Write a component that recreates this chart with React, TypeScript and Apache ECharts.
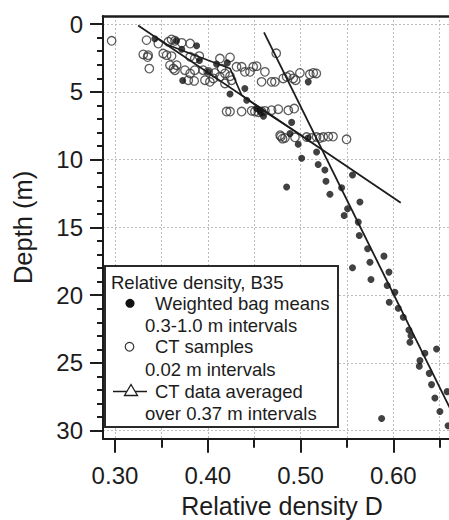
import React, { useEffect, useRef } from "react";
import * as echarts from "echarts";

// Weighted bag means: [relative density D, depth m]
const bagMeans: number[][] = [
  [0.343, 1.08], [0.366, 1.22], [0.372, 1.85], [0.388, 1.6], [0.391, 2.68],
  [0.373, 4.16], [0.4005, 3.52], [0.4095, 2.95], [0.421, 2.86], [0.424, 5.15],
  [0.44, 4.75], [0.442, 5.62], [0.4526, 6.23], [0.4575, 6.5], [0.4563, 6.36],
  [0.46, 6.8], [0.4904, 7.25], [0.4886, 8.08], [0.4975, 8.87], [0.5083, 4.26],
  [0.5012, 9.9], [0.508, 8.4], [0.5173, 9.44], [0.519, 10.36], [0.5262, 10.76],
  [0.556, 11.13], [0.5274, 11.6], [0.5317, 12.56], [0.5443, 12.07], [0.564, 13.13],
  [0.5507, 13.62], [0.547, 14.12], [0.5622, 14.61], [0.5633, 15.6], [0.5723, 16.58],
  [0.5899, 17.12], [0.5748, 17.57], [0.556, 17.98], [0.5953, 18.3], [0.5759, 18.85],
  [0.5934, 19.29], [0.6017, 19.79], [0.5956, 20.52], [0.6053, 20.97], [0.6107, 21.63],
  [0.6168, 22.57], [0.619, 22.99], [0.6179, 23.48], [0.6466, 23.97], [0.634, 24.29],
  [0.6287, 24.83], [0.628, 25.25], [0.6387, 25.77], [0.6412, 26.6], [0.658, 27.12],
  [0.6448, 27.59], [0.6502, 28.58], [0.5874, 29.1], [0.659, 29.64], [0.485, 12.02],
];

// CT samples (0.02 m intervals): [relative density D, depth m]
const ctSamples: number[][] = [
  [0.2964, 1.23], [0.334, 1.18], [0.3305, 2.24], [0.3358, 2.29], [0.3352, 2.43],
  [0.337, 3.28], [0.3467, 1.43], [0.352, 2.17], [0.3575, 1.3], [0.361, 1.13],
  [0.3647, 1.23], [0.372, 1.38], [0.381, 1.43], [0.3557, 2.29], [0.361, 2.36],
  [0.3593, 3.03], [0.363, 3.28], [0.3665, 3.03], [0.3647, 3.4], [0.3754, 3.4],
  [0.381, 3.64], [0.386, 3.4], [0.379, 4.14], [0.3854, 4.19], [0.381, 2.41],
  [0.386, 2.54], [0.3909, 2.36], [0.395, 3.4], [0.4005, 3.52], [0.397, 4.14],
  [0.4023, 4.26], [0.406, 4.01], [0.4077, 3.6], [0.413, 3.89], [0.4185, 4.38],
  [0.4131, 2.54], [0.424, 2.46], [0.415, 3.28], [0.4185, 3.64], [0.424, 3.84],
  [0.4257, 4.14], [0.431, 3.15], [0.4365, 3.15], [0.44, 3.52], [0.4455, 3.52],
  [0.449, 3.15], [0.4527, 3.1], [0.4616, 3.52], [0.458, 4.26], [0.4688, 4.26],
  [0.4724, 4.26], [0.4738, 2.15], [0.4813, 4.01], [0.485, 3.89], [0.4886, 3.77],
  [0.4921, 4.01], [0.4947, 4.14], [0.4993, 3.6], [0.51, 3.7], [0.5137, 3.6],
  [0.517, 3.64],
  [0.4203, 6.45], [0.424, 6.45], [0.4365, 6.45], [0.4473, 6.4], [0.4508, 6.45],
  [0.4545, 6.5], [0.458, 6.45], [0.4616, 6.4], [0.4688, 6.35], [0.476, 6.28],
  [0.4868, 6.36], [0.4932, 6.23],
  [0.478, 8.2], [0.4806, 8.45], [0.4789, 8.3], [0.4832, 8.4], [0.494, 8.35],
  [0.5066, 8.33], [0.512, 8.4], [0.5173, 8.33], [0.521, 8.4], [0.5245, 8.33],
  [0.53, 8.3], [0.535, 8.3], [0.5496, 8.5],
];

// CT data averaged over 0.37 m intervals
const ctAveraged: number[][] = [
  [0.345, 1.0], [0.356, 1.5], [0.381, 2.17], [0.424, 3.27], [0.4365, 5.24],
  [0.458, 6.3], [0.503, 8.3],
];

// Fitted trend lines
const fitShallow: number[][] = [[0.325, 0.1], [0.608, 13.18]];
const fitDeep: number[][] = [[0.4606, 0.61], [0.673, 30.0]];

// Axes
const xMajorTicks = [0.3, 0.4, 0.5, 0.6];
const xMinorTicks = [0.3, 0.35, 0.4, 0.45, 0.5, 0.55, 0.6, 0.65];
const yMajorTicks = [0, 5, 10, 15, 20, 25, 30];
const yMinorTicks = [0, 1, 2, 3, 4, 5, 6, 7, 8, 9, 10, 11, 12, 13, 14, 15, 16, 17, 18, 19, 20, 21, 22, 23, 24, 25, 26, 27, 28, 29, 30];
const xTitle = "Relative density D";
const yTitle = "Depth (m)";

const legendTitle = "Relative density, B35";
const legendItems = [
  "Weighted bag means",
  "0.3-1.0 m intervals",
  "CT samples",
  "0.02 m intervals",
  "CT data averaged",
  "over 0.37 m intervals",
];

const FONT = "'Liberation Sans', Arial, sans-serif";
const INK = "#1c1c1c";
const X_MIN = 0.2871;
const X_MAX = 0.66;
const Y_MIN = -0.6;
const Y_MAX = 30.6;

export default function App() {
  const ref = useRef<HTMLDivElement>(null);

  useEffect(() => {
    if (!ref.current) return;
    const chart = echarts.init(ref.current, null, { renderer: "svg" });
    const axisLineStyle = { color: INK, width: 2 };
    const gridLine = { show: true, lineStyle: { color: "#bcbcbc", width: 1, type: [2, 2] as any } };
    const xBase = { type: "value" as const, min: X_MIN, max: X_MAX };
    const yBase = { type: "value" as const, min: Y_MIN, max: Y_MAX, inverse: true, position: "left" as const };

    const txt = (text: string, x: number, y: number) => ({
      type: "text",
      x,
      y,
      z: 101,
      style: { text, fill: INK, fontSize: 18.5, lineHeight: 19, fontFamily: FONT, verticalAlign: "middle", align: "left" },
    });

    const option: any = {
      animation: false,
      backgroundColor: "#fff",
      grid: { left: 103, top: 16, width: 346, height: 422.8, containLabel: false, outerBoundsMode: "none" },
      xAxis: [
        {
          ...xBase,
          position: "bottom",
          axisLine: { show: true, onZero: false, lineStyle: axisLineStyle },
          axisTick: { show: true, customValues: xMinorTicks, length: 9, lineStyle: axisLineStyle },
          axisLabel: { show: false },
          splitLine: gridLine,
        },
        {
          ...xBase,
          position: "bottom",
          axisLine: { show: false, onZero: false },
          axisTick: { show: true, customValues: xMajorTicks, length: 14, lineStyle: axisLineStyle },
          axisLabel: {
            show: true,
            customValues: xMajorTicks,
            formatter: (v: number) => v.toFixed(2),
            fontSize: 24,
            lineHeight: 24,
            fontFamily: FONT,
            color: INK,
            margin: 25,
          },
          splitLine: { show: false },
          name: xTitle,
          nameLocation: "middle",
          nameGap: 55,
          nameTextStyle: { fontSize: 25, lineHeight: 25, fontFamily: FONT, color: INK, padding: [0, 0, 0, 12] },
        },
        {
          ...xBase,
          position: "top",
          axisLine: { show: true, onZero: false, lineStyle: { color: INK, width: 2.5 } },
          axisTick: { show: false },
          axisLabel: { show: false },
          splitLine: { show: false },
        },
      ],
      yAxis: [
        {
          ...yBase,
          axisLine: { show: true, onZero: false, lineStyle: axisLineStyle },
          axisTick: { show: true, customValues: yMinorTicks, length: 6, lineStyle: axisLineStyle },
          axisLabel: { show: false },
          splitLine: { show: false },
        },
        {
          ...yBase,
          axisLine: { show: false, onZero: false },
          axisTick: { show: true, customValues: yMajorTicks, length: 13, lineStyle: axisLineStyle },
          axisLabel: {
            show: true,
            customValues: yMajorTicks,
            fontSize: 24,
            lineHeight: 24,
            fontFamily: FONT,
            color: INK,
            margin: 20,
          },
          splitLine: gridLine,
          name: yTitle,
          nameLocation: "middle",
          nameGap: 67,
          nameTextStyle: { fontSize: 25.5, lineHeight: 25.5, fontFamily: FONT, color: INK },
        },
      ],
      series: [
        {
          type: "scatter",
          name: "CT samples",
          xAxisIndex: 0,
          yAxisIndex: 0,
          data: ctSamples,
          symbol: "circle",
          symbolSize: 8.5,
          itemStyle: { color: "rgba(0,0,0,0)", borderColor: "#333", borderWidth: 1.3 },
          z: 2,
        },
        {
          type: "scatter",
          name: "Weighted bag means",
          xAxisIndex: 0,
          yAxisIndex: 0,
          data: bagMeans,
          symbol: "circle",
          symbolSize: 7,
          itemStyle: { color: "#111" },
          z: 3,
        },
        {
          type: "line",
          name: "CT data averaged",
          xAxisIndex: 0,
          yAxisIndex: 0,
          data: ctAveraged,
          symbol: "none",
          clip: true,
          lineStyle: { color: INK, width: 1.6 },
          z: 4,
        },
        {
          type: "line",
          name: "Shallow fit",
          xAxisIndex: 0,
          yAxisIndex: 0,
          data: fitShallow,
          symbol: "none",
          clip: true,
          lineStyle: { color: INK, width: 1.8 },
          z: 4,
        },
        {
          type: "line",
          name: "Deep fit",
          xAxisIndex: 0,
          yAxisIndex: 0,
          data: fitDeep,
          symbol: "none",
          clip: true,
          lineStyle: { color: INK, width: 1.8 },
          z: 4,
        },
      ],
      graphic: [
        {
          type: "rect",
          z: 100,
          shape: { x: 105, y: 266, width: 233, height: 161 },
          style: { fill: "#fff", stroke: "#2a2a2a", lineWidth: 2 },
        },
        txt(legendTitle, 111, 282.5),
        { type: "circle", z: 101, shape: { cx: 130, cy: 303.3, r: 4.5 }, style: { fill: "#111" } },
        txt(legendItems[0], 155, 303.3),
        txt(legendItems[1], 145, 325.5),
        { type: "circle", z: 101, shape: { cx: 129.5, cy: 346.7, r: 4.3 }, style: { fill: "none", stroke: "#333", lineWidth: 1.2 } },
        txt(legendItems[2], 155, 346.7),
        txt(legendItems[3], 145, 369.5),
        { type: "line", z: 101, shape: { x1: 113, y1: 391.5, x2: 147, y2: 391.5 }, style: { stroke: INK, lineWidth: 1.5 } },
        {
          type: "polygon",
          z: 102,
          shape: { points: [[124.5, 395.5], [137.5, 395.5], [131, 384.5]] },
          style: { fill: "#fff", stroke: INK, lineWidth: 1.3 },
        },
        txt(legendItems[4], 155, 391),
        txt(legendItems[5], 145, 413),
      ],
    };
    chart.setOption(option);
    return () => chart.dispose();
  }, []);

  return (
    <div
      ref={ref}
      style={{ position: "fixed", left: 0, top: 0, width: 449, height: 520, background: "#fff" }}
    />
  );
}
